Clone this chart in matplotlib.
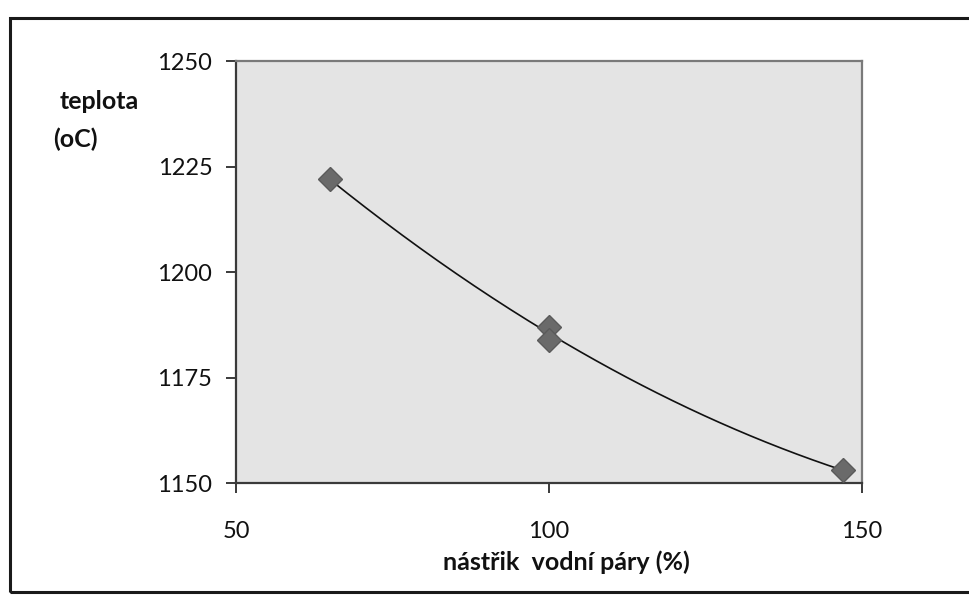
import numpy as np
import matplotlib
matplotlib.use('Agg')
import matplotlib.pyplot as plt
from matplotlib.patches import Rectangle

# ==========================================
# DATA
# ==========================================
steam_pct = [65, 100, 100, 147]          # nástřik vodní páry (%)
temp_c = [1222, 1187, 1184, 1153]        # teplota (oC)
x_ticks = [50, 100, 150]
y_ticks = [1150, 1175, 1200, 1225, 1250]
# ==========================================

FONT = 'Lato'

fig = plt.figure(figsize=(9.69, 6.13), dpi=100)
fig.patch.set_facecolor('white')

# outer chart frame
frame = Rectangle((0.010, 0.035), 1.0, 0.935, transform=fig.transFigure,
                  fill=False, edgecolor='#1a1a1a', linewidth=2.2, clip_on=False)
fig.patches.append(frame)

ax = fig.add_axes([0.2435, 0.212, 0.646, 0.688])
ax.set_facecolor('#e4e4e4')

# quadratic trendline, like the Excel one
coef = np.polyfit(steam_pct, temp_c, 2)
xs = np.linspace(min(steam_pct), max(steam_pct), 200)
ax.plot(xs, np.polyval(coef, xs), color='#111111', linewidth=1.2, zorder=2)

ax.plot(steam_pct, temp_c, linestyle='none', marker='D', markersize=12.5,
        color='#6a6a6a', markeredgecolor='#5a5a5a', zorder=3)

ax.set_xlim(50, 150)
ax.set_ylim(1150, 1250)
ax.set_xticks(x_ticks)
ax.set_yticks(y_ticks)

for side in ['left', 'bottom']:
    ax.spines[side].set_color('#3a3a3a')
    ax.spines[side].set_linewidth(1.6)
for side in ['top', 'right']:
    ax.spines[side].set_color('#7a7a7a')
    ax.spines[side].set_linewidth(1.6)

ax.tick_params(axis='both', direction='out', length=7, width=1.4, color='#3a3a3a',
               labelsize=17, labelcolor='#111111')
ax.tick_params(axis='x', pad=20)
ax.tick_params(axis='y', pad=10)
for lbl in ax.get_xticklabels() + ax.get_yticklabels():
    lbl.set_family(FONT)

fig.text(0.062, 0.835, 'teplota', fontsize=18, fontweight='bold', family=FONT,
         ha='left', va='center', color='#111111')
fig.text(0.055, 0.773, '(oC)', fontsize=18, fontweight='bold', family=FONT,
         ha='left', va='center', color='#111111')

fig.text(0.585, 0.083, 'nástřik  vodní páry (%)', fontsize=18, fontweight='bold',
         family=FONT, ha='center', va='center', color='#111111')

fig.savefig('out.png', dpi=100)
plt.close(fig)
